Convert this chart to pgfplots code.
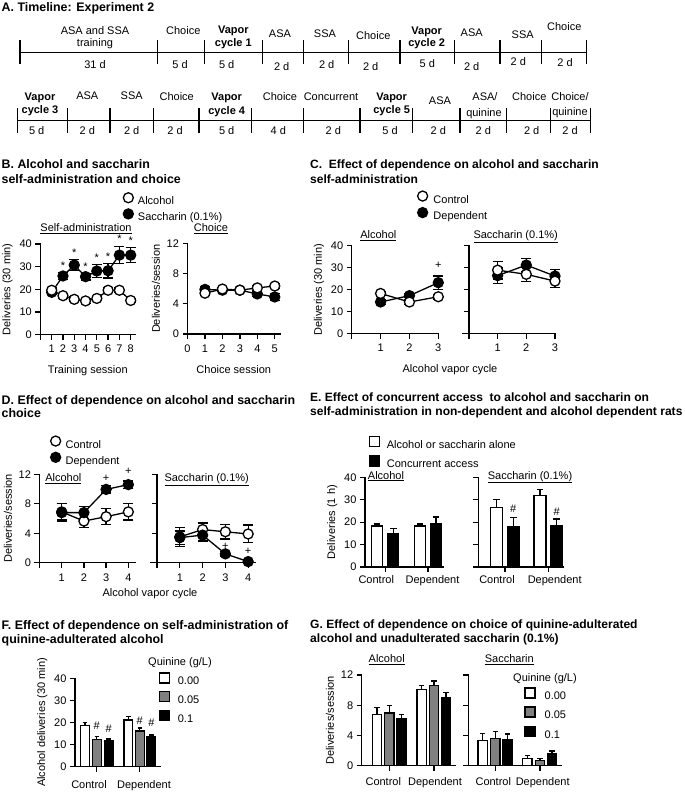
\documentclass[border=0pt]{standalone}
\usepackage{fontspec}
\setmainfont{Liberation Sans}
\usepackage{pgfplots}
\pgfplotsset{compat=1.18}
\newcommand\fs{\fontsize{11}{13}\selectfont}
\newcommand\ttl{\fontsize{12.4}{14}\selectfont\bfseries}
\newcommand\ttr{\fontsize{12.05}{14}\selectfont\bfseries}
\definecolor{qgray}{RGB}{128,128,128}
\pgfplotsset{
  gp/.style={scale only axis, anchor=south west,
    axis x line*=bottom, axis y line*=left,
    axis line style={line width=1.3pt, line cap=rect, black},
    every tick/.style={line width=1.3pt, black},
    tick align=outside, major tick length=5pt,
    enlargelimits=false, clip=false, ymin=0,
    /pgf/number format/assume math mode=true,
    tick label style={font=\fs, black},
    label style={font=\fs}},
  oc/.style={mark=*, mark size=5pt, mark options={fill=white, draw=black, line width=1.3pt}},
  fc/.style={mark=*, mark size=5pt, mark options={fill=black, draw=black, line width=1.3pt}},
  ln/.style={black, line width=1.3pt, mark=none, error bars/y dir=both, error bars/y explicit,
    error bars/error bar style={line width=1.3pt, black},
    error bars/error mark options={rotate=90, mark size=5pt, line width=1.3pt, black}},
  ann/.style={draw=none, mark=none, nodes near coords, point meta=explicit symbolic,
    nodes near coords style={anchor=center, font=\fs, inner sep=0pt}},
  br/.style 2 args={ybar, bar width=#1, bar shift=0pt, draw=black, line width=1.3pt,
    error bars/y dir=plus, error bars/y explicit,
    error bars/error bar style={line width=1.3pt, black},
    error bars/error mark options={rotate=90, mark size=#2, line width=1.3pt, black}},
  lg/.style n args={4}{legend style={draw=none, fill=none, inner sep=0pt, outer sep=0pt, font=\fs,
    nodes={inner sep=1pt}, row sep=#3, column sep=#4, at={(#1,#2)}, anchor=north west},
    legend cell align=left},
  circlegend/.style={legend image code/.code={\draw[##1] plot coordinates {(0pt,3.8pt)};}},
  sqlegend/.style={legend image code/.code={\draw[##1, line width=1.3pt] (-5pt,-1.2pt) rectangle (5pt,8.8pt);}},
}
\newcommand\tl[3]{\node[anchor=base, inner sep=0pt, font=\fs] at (#1pt,{-#2pt-4pt}) {#3};}
\newcommand\tb[3]{\node[anchor=base, inner sep=0pt, font=\fs\bfseries] at (#1pt,{-#2pt-4pt}) {#3};}
\newcommand\ti[3]{\node[anchor=base west, inner sep=0pt, font=\ttl] at (#1pt,{-#2pt-4.3pt}) {#3};}
\newcommand\tr[3]{\node[anchor=base west, inner sep=0pt, font=\ttr] at (#1pt,{-#2pt-4.3pt}) {#3};}
\begin{document}
\begin{tikzpicture}
\useasboundingbox (0,0) rectangle (685pt,-796pt);
% ---------------- A timeline ----------------
\ti{1.5}{7.3}{A. Timeline: Experiment 2}
\draw[line width=1.2pt] (20pt,-52.7pt) -- (586.7pt,-52.7pt);
\foreach \x in {20,157.7,204.7,262.3,303.3,348.3,400,454.3,500,541.7,586.7}
  \draw[line width=1.2pt] (\x pt,-40pt) -- (\x pt,-64pt);
\tl{95}{30.7}{ASA and SSA}\tl{95}{42.7}{training}
\tl{183.3}{30.7}{Choice}
\tb{233.3}{29.3}{Vapor}\tb{233.3}{42.7}{cycle 1}
\tl{280}{33.3}{ASA}\tl{325}{33.3}{SSA}
\tl{373.3}{35}{Choice}
\tb{426.7}{30}{Vapor}\tb{426.7}{42.7}{cycle 2}
\tl{471.7}{32.7}{ASA}\tl{522.7}{34.3}{SSA}\tl{564.3}{26.7}{Choice}
\tl{95}{64}{31 d}\tl{180}{64}{5 d}\tl{226.7}{64}{5 d}\tl{281.7}{66}{2 d}\tl{326.7}{64}{2 d}
\tl{370.7}{66}{2 d}\tl{427.3}{63}{5 d}\tl{471.7}{66}{2 d}\tl{518.3}{61}{2 d}\tl{565}{62}{2 d}
\draw[line width=1.2pt] (17.3pt,-120.7pt) -- (590.7pt,-120.7pt);
\foreach \x in {17.3,67.7,110,153.3,199,251.7,303.3,360,412.7,460,506.7,550.7,590.7}
  \draw[line width=1.2pt] (\x pt,-108pt) -- (\x pt,-133pt);
\tb{40}{96}{Vapor}\tb{40}{109.3}{cycle 3}
\tl{87.3}{95}{ASA}\tl{131.7}{95}{SSA}\tl{176.7}{96}{Choice}
\tb{226.7}{96.7}{Vapor}\tb{226.7}{110.7}{cycle 4}
\tl{280}{96.7}{Choice}\tl{331}{96.7}{Concurrent}
\tb{391.7}{96}{Vapor}\tb{391.7}{109.3}{cycle 5}
\tl{440}{100}{ASA}\tl{485}{96.7}{ASA/}\tl{484}{112.3}{quinine}
\tl{529.3}{96.7}{Choice}\tl{570}{96}{Choice/}\tl{570}{111.7}{quinine}
\tl{36.7}{130}{5 d}\tl{87.3}{130}{2 d}\tl{131.7}{130}{2 d}\tl{175}{130}{2 d}\tl{226.7}{130}{5 d}
\tl{278.3}{130}{4 d}\tl{333.3}{130}{2 d}\tl{390}{130}{5 d}\tl{438.3}{130}{2 d}\tl{483.3}{130}{2 d}
\tl{531.7}{130}{2 d}\tl{570}{130}{2 d}
% ---------------- B ----------------
\ti{1.5}{164.3}{B. Alcohol and saccharin}
\ti{1.5}{179.3}{self-administration and choice}
\tl{86}{227.5}{\underline{Self-administration}}
\tl{211}{227.5}{\underline{Choice}}
\begin{axis}[gp, at={(40.4pt,-334.7pt)}, width=94.8pt, height=90.7pt,
  xmin=0, xmax=8.4, ymax=40, xtick={0,...,8}, xticklabels={,1,2,3,4,5,6,7,8},
  xticklabel style={yshift=-2pt}, xlabel style={yshift=-6pt},
  ytick={0,10,20,30,40}, ylabel={Deliveries (30 min)}, xlabel={Training session},
  lg={0.875}{1.5650}{1.6pt}{3.6pt}, circlegend]
\addlegendimage{only marks, mark=*, mark size=5pt, mark options={fill=white, draw=black, line width=1.3pt}}
\addlegendentry{Alcohol}
\addlegendimage{only marks, mark=*, mark size=5pt, mark options={fill=black, draw=black, line width=1.3pt}}
\addlegendentry{Saccharin (0.1\%)}
\addplot[forget plot, ln] coordinates {(1,18.7) +- (0,1) (2,25.9) +- (0,1.5) (3,30.7) +- (0,2.5) (4,25.6) +- (0,1.5) (5,28.1) +- (0,3) (6,28.2) +- (0,3.2) (7,35.1) +- (0,3.8) (8,35.1) +- (0,3.4)};
\addplot[forget plot, only marks, fc] coordinates {(1,18.7) (2,25.9) (3,30.7) (4,25.6) (5,28.1) (6,28.2) (7,35.1) (8,35.1)};
\addplot[forget plot, ln] coordinates {(1,19.6) +- (0,1) (2,17.2) +- (0,1) (3,15.6) +- (0,1) (4,14.9) +- (0,1) (5,16) +- (0,1) (6,19.6) +- (0,1) (7,19.6) +- (0,1) (8,15.1) +- (0,1)};
\addplot[forget plot, only marks, oc] coordinates {(1,19.6) (2,17.2) (3,15.6) (4,14.9) (5,16) (6,19.6) (7,19.6) (8,15.1)};
\addplot[forget plot, ann, nodes near coords style={yshift=-1.5pt}] coordinates {(2,31) [*] (3,37) [*] (4,30.7) [*] (5,34.7) [*] (6,35.1) [*] (7,42.9) [*] (8,42.3) [*]};
\end{axis}
\begin{axis}[gp, at={(187.5pt,-334pt)}, width=92.5pt, height=90.7pt,
  xmin=0, xmax=5.3, ymax=12, xtick={0,...,5}, ytick={0,4,8,12},
  xticklabel style={yshift=-2pt}, xlabel style={yshift=-6pt},
  ylabel={Deliveries/session}, xlabel={Choice session}]
\addplot[forget plot, ln] coordinates {(1,5.9) +- (0,0.3) (2,5.8) +- (0,0.2) (3,5.8) +- (0,0.2) (4,5.3) +- (0,0.3) (5,4.9) +- (0,0.5)};
\addplot[forget plot, only marks, fc] coordinates {(1,5.9) (2,5.8) (3,5.8) (4,5.3) (5,4.9)};
\addplot[forget plot, ln] coordinates {(1,5.4) +- (0,0.3) (2,5.95) +- (0,0.2) (3,5.8) +- (0,0.2) (4,6.1) +- (0,0.3) (5,6.35) +- (0,0.3)};
\addplot[forget plot, only marks, oc] coordinates {(1,5.4) (2,5.95) (3,5.8) (4,6.1) (5,6.35)};
\end{axis}
% ---------------- C ----------------
\tr{310}{164.5}{C.\ \ Effect of dependence on alcohol and saccharin}
\tr{310}{179.5}{self-administration}
\tl{378.3}{234.3}{\underline{Alcohol}}
\tl{515.7}{234.3}{\underline{Saccharin (0.1\%)}}
\tl{450}{368.3}{Alcohol vapor cycle}
\begin{axis}[gp, at={(351.7pt,-333.7pt)}, width=86.6pt, height=88pt,
  xmin=0, xmax=3, ymax=40, xtick={0,1,2,3}, xticklabels={,1,2,3},
  xticklabel style={yshift=-2pt},
  ytick={0,10,20,30,40}, ylabel={Deliveries (30 min)},
  lg={0.7615}{1.621}{2pt}{4.8pt}, circlegend]
\addlegendimage{only marks, mark=*, mark size=5pt, mark options={fill=white, draw=black, line width=1.3pt}}
\addlegendentry{Control}
\addlegendimage{only marks, mark=*, mark size=5pt, mark options={fill=black, draw=black, line width=1.3pt}}
\addlegendentry{Dependent}
\addplot[forget plot, ln] coordinates {(1,14.4) +- (0,1) (2,17.3) +- (0,1) (3,23.2) +- (0,3)};
\addplot[forget plot, only marks, fc] coordinates {(1,14.4) (2,17.3) (3,23.2)};
\addplot[forget plot, ln] coordinates {(1,18.3) +- (0,1) (2,14.4) +- (0,1) (3,16.8) +- (0,1)};
\addplot[forget plot, only marks, oc] coordinates {(1,18.3) (2,14.4) (3,16.8)};
\addplot[forget plot, ann] coordinates {(3,30.9) [+]};
\end{axis}
\begin{axis}[gp, at={(462.3pt,-333.7pt)}, width=92.7pt, height=88pt,
  axis y line*=middle, ytick align=outside,
  xmin=-0.23, xmax=3, ymax=40, xtick={0,1,2,3}, xticklabels={,1,2,3},
  xticklabel style={yshift=-2pt},
  ytick={0,10,20,30,40}, yticklabels={}]
\addplot[forget plot, ln] coordinates {(1,26.4) +- (0,3.5) (2,31.2) +- (0,3) (3,26.2) +- (0,3)};
\addplot[forget plot, only marks, fc] coordinates {(1,26.4) (2,31.2) (3,26.2)};
\addplot[forget plot, ln] coordinates {(1,28.9) +- (0,4) (2,27) +- (0,3.3) (3,23.9) +- (0,3)};
\addplot[forget plot, only marks, oc] coordinates {(1,28.9) (2,27) (3,23.9)};
\end{axis}
% ---------------- D ----------------
\ti{1.5}{400}{D. Effect of dependence on alcohol and saccharin}
\ti{1.5}{413.3}{choice}
\tl{63.3}{477.3}{\underline{Alcohol}}
\tl{206.7}{477.3}{\underline{Saccharin (0.1\%)}}
\tl{150}{592.7}{Alcohol vapor cycle}
\begin{axis}[gp, at={(39.5pt,-562.7pt)}, width=95.5pt, height=88.4pt,
  xmin=0, xmax=4.3, ymax=12, xtick={0,...,4}, xticklabels={,1,2,3,4},
  xticklabel style={yshift=-2.5pt},
  ytick={0,4,8,12}, ylabel={Deliveries/session},
  lg={0.1168}{1.4327}{1.7pt}{4pt}, circlegend]
\addlegendimage{only marks, mark=*, mark size=5pt, mark options={fill=white, draw=black, line width=1.3pt}}
\addlegendentry{Control}
\addlegendimage{only marks, mark=*, mark size=5pt, mark options={fill=black, draw=black, line width=1.3pt}}
\addlegendentry{Dependent}
\addplot[forget plot, ln] coordinates {(1,6.9) +- (0,1.1) (2,5.65) +- (0,0.9) (3,6.25) +- (0,1.1) (4,6.9) +- (0,1.1)};
\addplot[forget plot, only marks, oc] coordinates {(1,6.9) (2,5.65) (3,6.25) (4,6.9)};
\addplot[forget plot, ln] coordinates {(1,6.8) +- (0,1.2) (2,6.8) +- (0,0.8) (3,9.95) +- (0,0.5) (4,10.6) +- (0,0.5)};
\addplot[forget plot, only marks, fc] coordinates {(1,6.8) (2,6.8) (3,9.95) (4,10.6)};
\addplot[forget plot, ann] coordinates {(3,11.45) [+] (4,12.35) [+]};
\end{axis}
\begin{axis}[gp, at={(150.2pt,-562.7pt)}, width=104.8pt, height=88.4pt,
  axis y line*=middle, ytick align=outside,
  xmin=-0.3, xmax=4.3, ymax=12, xtick={0,...,4}, xticklabels={,1,2,3,4},
  xticklabel style={yshift=-2.5pt},
  ytick={0,4,8,12}, yticklabels={}]
\addplot[forget plot, ln] coordinates {(1,3.5) +- (0,1.3) (2,4.5) +- (0,0.9) (3,4.2) +- (0,1) (4,3.9) +- (0,1.2)};
\addplot[forget plot, only marks, oc] coordinates {(1,3.5) (2,4.5) (3,4.2) (4,3.9)};
\addplot[forget plot, ln] coordinates {(1,3.4) +- (0,0.9) (2,3.75) +- (0,0.8) (3,1.2) +- (0,0.3) (4,0.15) +- (0,0.2)};
\addplot[forget plot, only marks, fc] coordinates {(1,3.4) (2,3.75) (3,1.2) (4,0.15)};
\addplot[forget plot, ann] coordinates {(3,2.2) [+] (4,1.6) [+]};
\end{axis}
% ---------------- E ----------------
\tr{310}{396.7}{E. Effect of concurrent access\ \ to alcohol and saccharin on}
\tr{310}{411}{self-administration in non-dependent and alcohol dependent rats}
\tl{386}{475}{\underline{Alcohol}}
\tl{530}{475}{\underline{Saccharin (0.1\%)}}
\begin{axis}[gp, at={(365pt,-567pt)}, width=78.3pt, height=89.7pt,
  xmin=0, xmax=78.3, ymax=40, xtick={20.15,63}, xticklabels={Control\hspace*{17.8pt},\hspace*{9pt}Dependent},
  ytick={0,10,20,30,40}, ylabel={Deliveries (1 h)},
  lg={0.0517}{1.4643}{4.4pt}{5.5pt}, sqlegend]
\addlegendimage{fill=white, draw=black}
\addlegendentry{Alcohol or saccharin alone}
\addlegendimage{fill=black, draw=black}
\addlegendentry{Concurrent access}
\addplot[forget plot, br={11}{3.3pt}, fill=white] coordinates {(12,18.3) +- (0,0.9) (55,18.3) +- (0,0.9)};
\addplot[forget plot, br={11}{3.3pt}, fill=black] coordinates {(28.3,15.0) +- (0,2.1) (71,19.5) +- (0,2.8)};
\end{axis}
\begin{axis}[gp, at={(478.3pt,-567pt)}, width=85pt, height=89.7pt,
  xmin=0, xmax=85, ymax=40, xtick={26.7,70}, xticklabels={Control\hspace*{16pt},\hspace*{12.8pt}Dependent},
  ytick={0,10,20,30,40}, yticklabels={}]
\addplot[forget plot, br={12}{3.3pt}, fill=white] coordinates {(18.4,26.6) +- (0,3.4) (61.7,32) +- (0,2.6)};
\addplot[forget plot, br={12}{3.3pt}, fill=black] coordinates {(35,18.0) +- (0,4.2) (78.4,18.3) +- (0,3.1)};
\addplot[forget plot, ann] coordinates {(35,26.2) [\#] (78.4,24.7) [\#]};
\end{axis}
% ---------------- F ----------------
\ti{1.5}{625}{F. Effect of dependence on self-administration of}
\ti{1.5}{639.3}{quinine-adulterated alcohol}
\tl{180}{661.7}{Quinine (g/L)}
\begin{axis}[gp, at={(75pt,-766.5pt)}, width=85pt, height=88.2pt,
  xmin=0, xmax=85, ymax=40, xtick={21.8,64.8}, xticklabels={Control\hspace*{15.6pt},\hspace*{8.4pt}Dependent},
  xticklabel style={yshift=-5.5pt},
  ytick={0,10,20,30,40}, ylabel={Alcohol deliveries (30 min)},
  lg={0.9888}{1.0675}{3.55pt}{6.5pt}, sqlegend]
\addlegendimage{fill=white, draw=black}
\addlegendentry{0.00}
\addlegendimage{fill=qgray, draw=black}
\addlegendentry{0.05}
\addlegendimage{fill=black, draw=black}
\addlegendentry{0.1}
\addplot[forget plot, br={8.7}{2.3pt}, fill=white] coordinates {(10,18.55) +- (0,1.5) (53.2,21.1) +- (0,1.5)};
\addplot[forget plot, br={8.7}{2.3pt}, fill=qgray] coordinates {(21.8,12.4) +- (0,1.2) (64.8,16.1) +- (0,1.4)};
\addplot[forget plot, br={8.7}{2.3pt}, fill=black] coordinates {(33.6,11.6) +- (0,0.9) (76.4,13.7) +- (0,0.6)};
\addplot[forget plot, ann] coordinates {(21.8,18.4) [\#] (33.6,17) [\#] (64.8,20.7) [\#] (76.4,19.9) [\#]};
\end{axis}
% ---------------- G ----------------
\tr{310}{624}{G. Effect of dependence on choice of quinine-adulterated}
\tr{310}{638}{alcohol and unadulterated saccharin (0.1\%)}
\tl{386.7}{658.3}{\underline{Alcohol}}
\tl{509.3}{658.3}{\underline{Saccharin}}
\tl{545}{677.7}{Quinine (g/L)}
\begin{axis}[gp, at={(361.7pt,-765.7pt)}, width=93.3pt, height=90.7pt,
  xmin=0, xmax=93.3, ymax=12, xtick={27.6,72.3}, xticklabels={Control\hspace*{12pt},\hspace*{2pt}Dependent},
  xticklabel style={yshift=-3pt},
  ytick={0,4,8,12}, ylabel={Deliveries/session}]
\addplot[forget plot, br={9.3}{2.7pt}, fill=white] coordinates {(15.3,6.75) +- (0,0.95) (60,10.1) +- (0,0.5)};
\addplot[forget plot, br={9.3}{2.7pt}, fill=qgray] coordinates {(27.6,6.97) +- (0,0.97) (72.3,10.63) +- (0,0.57)};
\addplot[forget plot, br={9.3}{2.7pt}, fill=black] coordinates {(40,6.18) +- (0,0.62) (84.3,9.04) +- (0,0.62)};
\end{axis}
\begin{axis}[gp, at={(468.3pt,-765.7pt)}, width=93.4pt, height=90.7pt,
  xmin=0, xmax=93.4, ymax=12, xtick={27,71.7}, xticklabels={Control\hspace*{4pt},\hspace*{5.4pt}Dependent},
  xticklabel style={yshift=-3pt},
  ytick={0,4,8,12}, yticklabels={},
  lg={0.6001}{0.8638}{4.05pt}{8pt}, sqlegend]
\addlegendimage{fill=white, draw=black}
\addlegendentry{0.00}
\addlegendimage{fill=qgray, draw=black}
\addlegendentry{0.05}
\addlegendimage{fill=black, draw=black}
\addlegendentry{0.1}
\addplot[forget plot, br={9.3}{2.7pt}, fill=white] coordinates {(14.4,3.3) +- (0,0.98) (59,0.93) +- (0,0.39)};
\addplot[forget plot, br={9.3}{2.7pt}, fill=qgray] coordinates {(27,3.57) +- (0,0.93) (71.7,0.7) +- (0,0.23)};
\addplot[forget plot, br={9.3}{2.7pt}, fill=black] coordinates {(39.4,3.4) +- (0,0.8) (83.7,1.54) +- (0,0.4)};
\end{axis}
\end{tikzpicture}
\end{document}
